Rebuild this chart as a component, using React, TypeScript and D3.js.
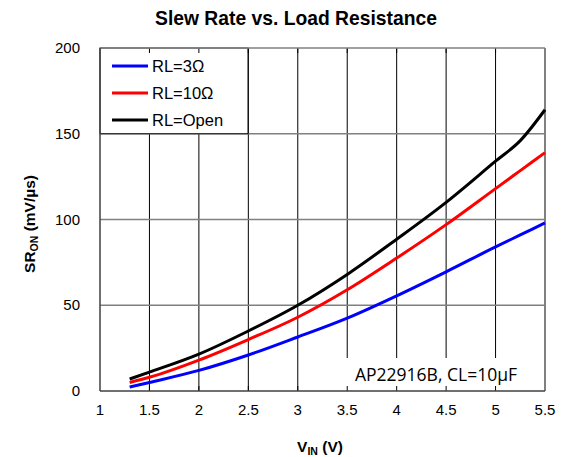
import React, { useEffect, useRef } from "react";
import * as d3 from "d3";

const vin = [1.3, 1.5, 2, 2.5, 3, 3.5, 4, 4.5, 5, 5.25, 5.5];
const rl3 = [2.3, 5, 12, 21, 31.5, 42.5, 55.5, 69.5, 84, 91, 98];
const rl10 = [5, 8, 18, 30, 43, 59, 77.5, 97, 118, 128.5, 139];
const rlOpen = [7, 11, 21.5, 35, 50, 68, 88.5, 110, 134, 146, 164];
const xTicks = [1, 1.5, 2, 2.5, 3, 3.5, 4, 4.5, 5, 5.5];
const yTicks = [0, 50, 100, 150, 200];

const series = [
  { name: "RL=3Ω", values: rl3, color: "#0000ff" },
  { name: "RL=10Ω", values: rl10, color: "#ff0000" },
  { name: "RL=Open", values: rlOpen, color: "#000000" },
];

const W = 566;
const H = 457;
const left = 100;
const right = 545;
const top = 48;
const bottom = 391;

export default function App() {
  const svgRef = useRef<SVGSVGElement>(null);

  useEffect(() => {
    const svg = d3.select(svgRef.current);
    svg.selectAll("*").remove();
    const font = "'Liberation Sans', Arial, sans-serif";

    const x = d3.scaleLinear().domain([1, 5.5]).range([left, right]);
    const y = d3.scaleLinear().domain([0, 200]).range([bottom, top]);

    // vertical grid
    svg
      .append("g")
      .selectAll("line")
      .data(xTicks.slice(1, -1))
      .enter()
      .append("line")
      .attr("x1", (d) => x(d))
      .attr("x2", (d) => x(d))
      .attr("y1", top)
      .attr("y2", bottom)
      .attr("stroke", "#000")
      .attr("stroke-width", 1);

    // horizontal grid
    svg
      .append("g")
      .selectAll("line")
      .data(yTicks.slice(1, -1))
      .enter()
      .append("line")
      .attr("x1", left)
      .attr("x2", right)
      .attr("y1", (d) => y(d))
      .attr("y2", (d) => y(d))
      .attr("stroke", "#808080")
      .attr("stroke-width", 1.5);

    // legend box covering grid
    svg
      .append("rect")
      .attr("x", left)
      .attr("y", top)
      .attr("width", 148)
      .attr("height", y(150) - top)
      .attr("fill", "#fff")
      .attr("stroke", "#000")
      .attr("stroke-width", 1);

    // annotation box covering grid
    svg
      .append("rect")
      .attr("x", 340)
      .attr("y", 358)
      .attr("width", right - 340)
      .attr("height", bottom - 358)
      .attr("fill", "#fff");

    // small ticks top and bottom
    const tickG = svg.append("g");
    xTicks.slice(1, -1).forEach((d) => {
      tickG
        .append("line")
        .attr("x1", x(d))
        .attr("x2", x(d))
        .attr("y1", top)
        .attr("y2", top + 5)
        .attr("stroke", "#000");
      tickG
        .append("line")
        .attr("x1", x(d))
        .attr("x2", x(d))
        .attr("y1", bottom)
        .attr("y2", bottom - 5)
        .attr("stroke", "#000");
    });

    // frame
    svg
      .append("line")
      .attr("x1", left)
      .attr("x2", right)
      .attr("y1", top)
      .attr("y2", top)
      .attr("stroke", "#808080")
      .attr("stroke-width", 1.5);
    svg
      .append("line")
      .attr("x1", right)
      .attr("x2", right)
      .attr("y1", top)
      .attr("y2", bottom)
      .attr("stroke", "#808080")
      .attr("stroke-width", 2);
    svg
      .append("line")
      .attr("x1", left)
      .attr("x2", right)
      .attr("y1", bottom)
      .attr("y2", bottom)
      .attr("stroke", "#404040")
      .attr("stroke-width", 1.5);
    svg
      .append("line")
      .attr("x1", left)
      .attr("x2", left)
      .attr("y1", top)
      .attr("y2", bottom)
      .attr("stroke", "#404040")
      .attr("stroke-width", 1.5);

    // curves
    const line = d3
      .line<number>()
      .x((d, i) => x(vin[i]))
      .y((d) => y(d))
      .curve(d3.curveMonotoneX);

    series.forEach((s) => {
      svg
        .append("path")
        .datum(s.values)
        .attr("fill", "none")
        .attr("stroke", s.color)
        .attr("stroke-width", 3)
        .attr("d", line);
    });

    // legend entries
    series.forEach((s, i) => {
      const ly = 66 + i * 27;
      svg
        .append("line")
        .attr("x1", 112)
        .attr("x2", 148)
        .attr("y1", ly)
        .attr("y2", ly)
        .attr("stroke", s.color)
        .attr("stroke-width", 3);
      svg
        .append("text")
        .attr("x", 152)
        .attr("y", ly + 6)
        .attr("font-family", font)
        .attr("font-size", 16.5)
        .text(s.name);
    });

    // axis labels
    svg
      .append("g")
      .selectAll("text")
      .data(xTicks)
      .enter()
      .append("text")
      .attr("x", (d) => x(d))
      .attr("y", 415)
      .attr("text-anchor", "middle")
      .attr("font-family", font)
      .attr("font-size", 15)
      .text((d) => String(d));

    svg
      .append("g")
      .selectAll("text")
      .data(yTicks)
      .enter()
      .append("text")
      .attr("x", 80)
      .attr("y", (d) => y(d) + 5)
      .attr("text-anchor", "end")
      .attr("font-family", font)
      .attr("font-size", 15)
      .text((d) => String(d));

    // annotation
    svg
      .append("text")
      .attr("x", 355)
      .attr("y", 381)
      .attr("font-family", "'Open Sans', sans-serif")
      .attr("font-size", 17.5)
      .text("AP22916B, CL=10µF");

    // title
    svg
      .append("text")
      .attr("x", 296)
      .attr("y", 25)
      .attr("text-anchor", "middle")
      .attr("font-family", font)
      .attr("font-weight", "bold")
      .attr("font-size", 19.3)
      .text("Slew Rate vs. Load Resistance");

    // x title
    const xt = svg
      .append("text")
      .attr("x", 320)
      .attr("y", 452)
      .attr("text-anchor", "middle")
      .attr("font-family", font)
      .attr("font-weight", "bold")
      .attr("font-size", 15.5);
    xt.append("tspan").text("V");
    xt.append("tspan").attr("font-size", 10.5).attr("dy", 3).text("IN");
    xt.append("tspan").attr("dy", -3).text(" (V)");

    // y title
    const yt = svg
      .append("text")
      .attr("transform", `translate(35,224) rotate(-90)`)
      .attr("text-anchor", "middle")
      .attr("font-family", font)
      .attr("font-weight", "bold")
      .attr("font-size", 15.5);
    yt.append("tspan").text("SR");
    yt.append("tspan").attr("font-size", 10.5).attr("dy", 3).text("ON");
    yt.append("tspan").attr("dy", -3).text(" (mV/µs)");
  }, []);

  return (
    <svg
      ref={svgRef}
      width={W}
      height={H}
      style={{ position: "absolute", left: 0, top: 0, background: "#fff" }}
    ></svg>
  );
}
